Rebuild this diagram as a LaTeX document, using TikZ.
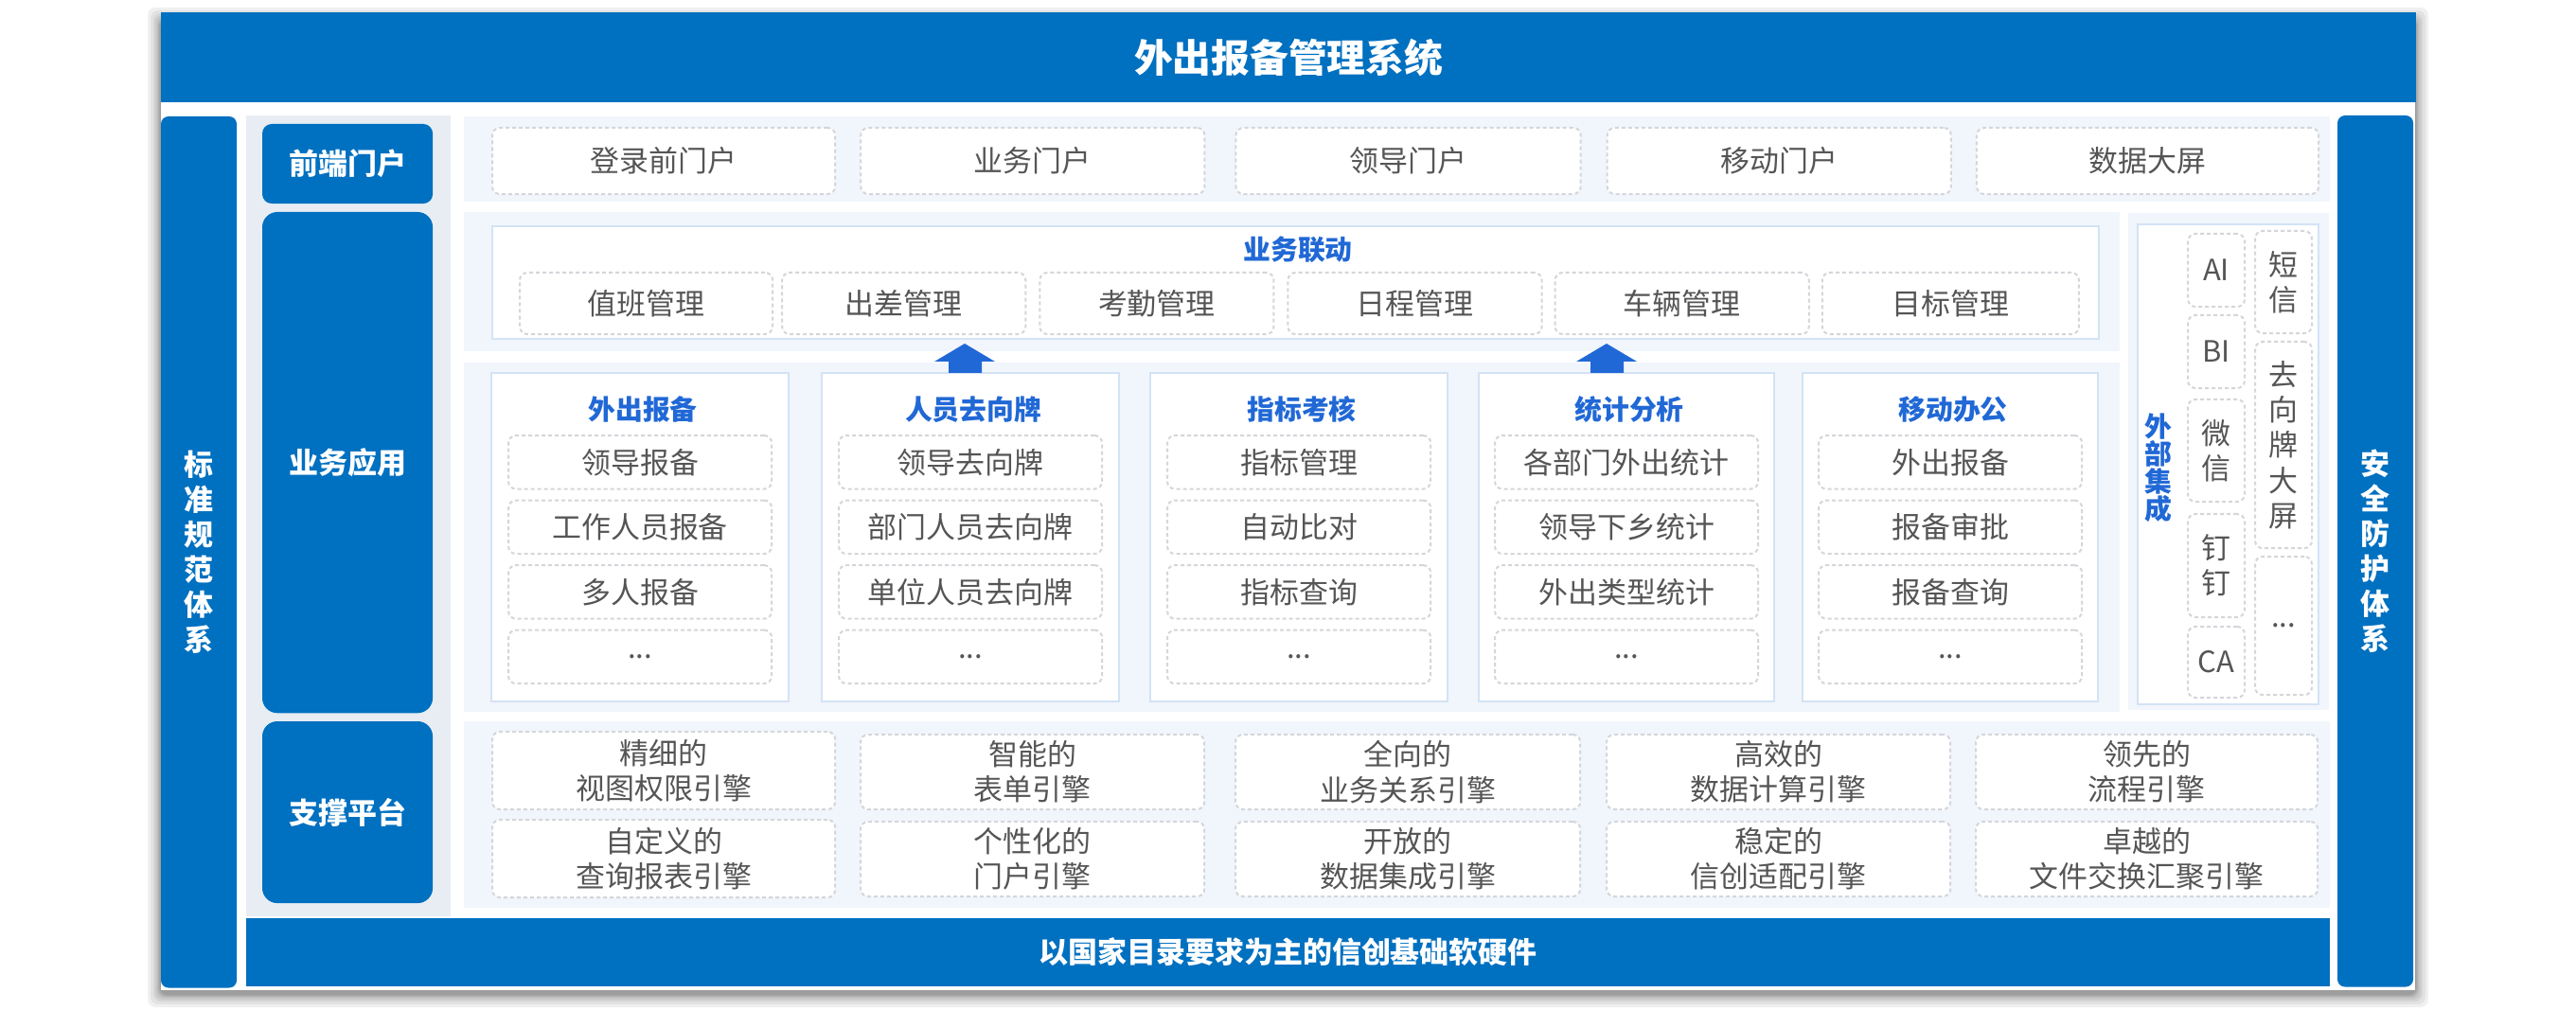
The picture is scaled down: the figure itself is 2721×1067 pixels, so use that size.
\documentclass[tikz,border=0pt]{standalone}
\usepackage{fontspec}
\setmainfont{Noto Sans CJK SC}
\usetikzlibrary{positioning}
\definecolor{barblue}{HTML}{0070C0}
\definecolor{headblue}{HTML}{2068D6}
\definecolor{panelbg}{HTML}{F1F5FC}
\definecolor{columnbg}{HTML}{E8EDF4}
\definecolor{whiteline}{HTML}{D3E3F5}
\definecolor{dashline}{HTML}{D4D6DA}
\definecolor{celltext}{HTML}{555555}
\tikzset{
  bar/.style={fill=barblue,text=white,font=\fontsize{8.8}{10.5}\selectfont\bfseries,align=center,inner sep=0pt,outer sep=0pt,anchor=north west},
  sidebar/.style={bar,minimum width=0.8cm,minimum height=9.2cm,rounded corners=0.08cm},
  tag/.style={bar,minimum width=1.8cm,rounded corners=0.16cm},
  panel/.style={fill=panelbg,inner sep=0pt,outer sep=0pt,anchor=north west},
  whitebox/.style={fill=white,draw=whiteline,line width=0.02cm,inner sep=0pt,outer sep=0pt,anchor=north west},
  cell/.style={fill=white,draw=dashline,line width=0.02cm,dash pattern=on 0.04cm off 0.03cm,rounded corners=0.08cm,text=celltext,font=\fontsize{8.8}{10.6}\selectfont,align=center,inner sep=0pt,outer sep=0pt,anchor=north west},
  textdown/.style={execute at begin node={\vspace{0.07cm}}},
  portal/.style={cell,textdown,minimum height=0.7cm},
  engine/.style={cell,textdown,minimum height=0.81cm},
  linkcell/.style={cell,minimum height=0.65cm},
  appcell/.style={cell,textdown,minimum width=2.78cm,minimum height=0.565cm},
  extcell/.style={cell,minimum width=0.6cm},
  head/.style={text=headblue,font=\fontsize{8.2}{8.2}\selectfont\bfseries,align=center,inner sep=0pt},
  apphead/.style={head,xshift=0.03cm},
  appbox/.style={whitebox,minimum height=3.47cm},
  uparrow/.style={fill=headblue},
}
\begin{document}
\begin{tikzpicture}[x=0.01cm,y=-0.01cm]
  \useasboundingbox (0,0) rectangle (2721,1067);
  % card and its shadow
  \foreach \s in {1,2,3,4,6,8,11,14} {
    \fill[black,opacity=0.06,rounded corners=0.08cm] (170-\s,22-\s) rectangle (2551+\s,1050+\s);
  }
  \fill[white] (170,13) rectangle (2551,1046);
  \node[bar,minimum width=23.81cm,minimum height=0.95cm,font=\fontsize{11.6}{13}\selectfont\bfseries] (title) at (170,13) {外出报备管理系统};
  \node[sidebar] (leftbar) at (170,123) {标\\准\\规\\范\\体\\系};
  \node[sidebar] (rightbar) at (2469,122) {安\\全\\防\\护\\体\\系};
  % left column
  \node[panel,fill=columnbg,minimum width=2.16cm,minimum height=8.46cm] (tagcolumn) at (260,122) {};
  \node[tag,minimum height=0.84cm,rounded corners=0.1cm] (tagfront) at (277,131) {前端门户};
  \node[tag,minimum height=5.29cm] (tagapp) at (277,224) {业务应用};
  \node[tag,minimum height=1.92cm] (tagbase) at (277,762) {支撑平台};
  \node[bar,minimum width=22cm,minimum height=0.72cm] (basebar) at (260,970) {以国家目录要求为主的信创基础软硬件};
  % portals
  \node[panel,minimum width=19.7cm,minimum height=0.9cm] (portalpanel) at (490,123) {};
  \node[portal,minimum width=3.62cm] (portala) at (520,135) {登录前门户};
  \node[portal,minimum width=3.63cm,right=0.27cm of portala] (portalb) {业务门户};
  \node[portal,minimum width=3.64cm,right=0.33cm of portalb] (portalc) {领导门户};
  \node[portal,minimum width=3.63cm,right=0.28cm of portalc] (portald) {移动门户};
  \node[portal,minimum width=3.61cm,right=0.27cm of portald] (portale) {数据大屏};
  % linkage
  \node[panel,minimum width=17.48cm,minimum height=1.47cm] (linkpanel) at (490,224) {};
  \node[whitebox,minimum width=16.96cm,minimum height=1.19cm] (linkbox) at (520,239) {};
  \node[head] (linkhead) at (1371,264) {业务联动};
  \node[linkcell,minimum width=2.67cm] (linka) at (549,288) {值班管理};
  \node[linkcell,minimum width=2.57cm,right=0.1cm of linka] (linkb) {出差管理};
  \node[linkcell,minimum width=2.47cm,right=0.15cm of linkb] (linkc) {考勤管理};
  \node[linkcell,minimum width=2.68cm,right=0.15cm of linkc] (linkd) {日程管理};
  \node[linkcell,minimum width=2.68cm,right=0.14cm of linkd] (linke) {车辆管理};
  \node[linkcell,minimum width=2.71cm,right=0.14cm of linke] (linkf) {目标管理};
  % applications
  \node[panel,minimum width=17.48cm,minimum height=3.69cm] (apppanel) at (490,383) {};
  \node[appbox,minimum width=3.14cm] (boxa) at (519,394) {};
  \node[appbox,minimum width=3.14cm] (boxb) at (868,394) {};
  \node[appbox,minimum width=3.14cm] (boxc) at (1215,394) {};
  \node[appbox,minimum width=3.12cm] (boxd) at (1562,394) {};
  \node[appbox,minimum width=3.12cm] (boxe) at (1904,394) {};
  \fill[uparrow] (1019,363) -- (1051,382) -- (1037,382) -- (1037,394) -- (1002,394) -- (1002,382) -- (987,382) -- cycle;
  \fill[uparrow] (1697,363) -- (1729,382) -- (1715,382) -- (1715,394) -- (1680,394) -- (1680,382) -- (1665,382) -- cycle;
  \node[apphead,below=0.24cm of boxa.north] (heada) {外出报备};
  \node[appcell,below=0.66cm of boxa.north,anchor=north] (cella) {领导报备};
  \node[appcell,below=0.12cm of cella,anchor=north] (cellaa) {工作人员报备};
  \node[appcell,below=0.12cm of cellaa,anchor=north] (cellab) {多人报备};
  \node[appcell,below=0.12cm of cellab,anchor=north] (cellac) {...};
  \node[apphead,below=0.24cm of boxb.north] (headb) {人员去向牌};
  \node[appcell,below=0.66cm of boxb.north,anchor=north] (cellb) {领导去向牌};
  \node[appcell,below=0.12cm of cellb,anchor=north] (cellba) {部门人员去向牌};
  \node[appcell,below=0.12cm of cellba,anchor=north] (cellbb) {单位人员去向牌};
  \node[appcell,below=0.12cm of cellbb,anchor=north] (cellbc) {...};
  \node[apphead,below=0.24cm of boxc.north] (headc) {指标考核};
  \node[appcell,below=0.66cm of boxc.north,anchor=north] (cellc) {指标管理};
  \node[appcell,below=0.12cm of cellc,anchor=north] (cellca) {自动比对};
  \node[appcell,below=0.12cm of cellca,anchor=north] (cellcb) {指标查询};
  \node[appcell,below=0.12cm of cellcb,anchor=north] (cellcc) {...};
  \node[apphead,below=0.24cm of boxd.north] (headd) {统计分析};
  \node[appcell,below=0.66cm of boxd.north,anchor=north] (celld) {各部门外出统计};
  \node[appcell,below=0.12cm of celld,anchor=north] (cellda) {领导下乡统计};
  \node[appcell,below=0.12cm of cellda,anchor=north] (celldb) {外出类型统计};
  \node[appcell,below=0.12cm of celldb,anchor=north] (celldc) {...};
  \node[apphead,below=0.24cm of boxe.north] (heade) {移动办公};
  \node[appcell,below=0.66cm of boxe.north,anchor=north] (celle) {外出报备};
  \node[appcell,below=0.12cm of celle,anchor=north] (cellea) {报备审批};
  \node[appcell,below=0.12cm of cellea,anchor=north] (celleb) {报备查询};
  \node[appcell,below=0.12cm of celleb,anchor=north] (cellec) {...};
  % external systems
  \node[panel,minimum width=2.12cm,minimum height=5.25cm] (extpanel) at (2248,225) {};
  \node[whitebox,minimum width=1.91cm,minimum height=5.07cm] (extbox) at (2258,237) {};
  \node[head] (exthead) at (2280,494) {外\\部\\集\\成};
  \node[extcell,minimum height=0.77cm] (extai) at (2311,247) {AI};
  \node[extcell,minimum height=0.77cm] (extbi) at (2311,333) {BI};
  \node[extcell,minimum height=1.08cm] (extwx) at (2311,422) {微\\信};
  \node[extcell,minimum height=1.09cm] (extdd) at (2311,543) {钉\\钉};
  \node[extcell,minimum height=0.75cm] (extca) at (2311,662) {CA};
  \node[extcell,minimum height=1.08cm] (extsms) at (2382,244) {短\\信};
  \node[extcell,minimum height=2.18cm] (extscreen) at (2382,361) {去\\向\\牌\\大\\屏};
  \node[extcell,minimum height=1.46cm] (extmore) at (2382,588) {...};
  % engines
  \node[panel,minimum width=19.7cm,minimum height=1.97cm] (enginepanel) at (490,762) {};
  \node[engine,minimum width=3.62cm,minimum height=0.82cm] (enginea) at (520,773) {精细的\\视图权限引擎};
  \node[engine,minimum width=3.63cm,minimum height=0.79cm] (engineb) at (909,776) {智能的\\表单引擎};
  \node[engine,minimum width=3.64cm,minimum height=0.79cm] (enginec) at (1305,776) {全向的\\业务关系引擎};
  \node[engine,minimum width=3.63cm,minimum height=0.79cm] (engined) at (1697,776) {高效的\\数据计算引擎};
  \node[engine,minimum width=3.61cm,minimum height=0.79cm] (enginee) at (2087,776) {领先的\\流程引擎};
  \node[engine,minimum width=3.62cm,minimum height=0.82cm] (enginef) at (520,866) {自定义的\\查询报表引擎};
  \node[engine,minimum width=3.63cm,minimum height=0.79cm] (engineg) at (909,868) {个性化的\\门户引擎};
  \node[engine,minimum width=3.64cm,minimum height=0.79cm] (engineh) at (1305,868) {开放的\\数据集成引擎};
  \node[engine,minimum width=3.63cm,minimum height=0.79cm] (enginei) at (1697,868) {稳定的\\信创适配引擎};
  \node[engine,minimum width=3.61cm,minimum height=0.79cm] (enginej) at (2087,868) {卓越的\\文件交换汇聚引擎};
\end{tikzpicture}
\end{document}
